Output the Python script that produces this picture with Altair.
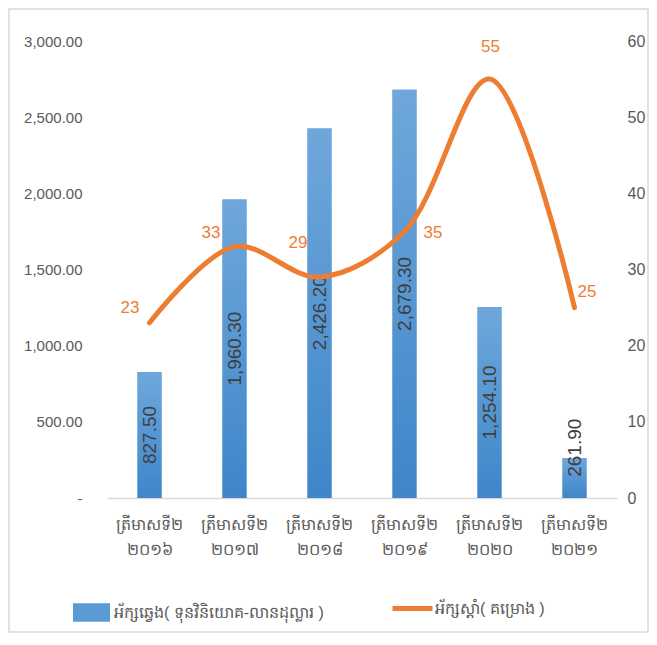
import altair as alt
import pandas as pd

quarter = "ត្រីមាសទី២"
years = ["២០១៦", "២០១៧", "២០១៨", "២០១៩", "២០២០", "២០២១"]
categories = [quarter + " " + y for y in years]
investment = [827.5, 1960.3, 2426.2, 2679.3, 1254.1, 261.9]
projects = [23, 33, 29, 35, 55, 25]
bar_series = "អ័ក្សឆ្វេង( ទុនវិនិយោគ-លានដុល្លារ )"
line_series = "អ័ក្សស្តាំ( គម្រោង )"
left_ticks = [0, 500, 1000, 1500, 2000, 2500, 3000]
right_ticks = [0, 10, 20, 30, 40, 50, 60]

df = pd.DataFrame({"cat": categories, "inv": investment, "proj": projects})

BLUE = "#5b9bd5"
ORANGE = "#ed7d31"
GRAY = "#595959"
FONT = "Liberation Sans"

base = alt.Chart(df)

x_enc = alt.X(
    "cat:N", sort=categories, title=None,
    scale=alt.Scale(paddingInner=0, paddingOuter=0),
    axis=alt.Axis(
        labelExpr="split(datum.label, ' ')", labelAngle=0, labelFontSize=16,
        labelColor=GRAY, labelLineHeight=25, labelPadding=18, ticks=False,
        domainColor="#d9d9d9", domainWidth=1.5, labelFont=FONT,
    ),
)
x_plain = alt.X("cat:N", sort=categories, scale=alt.Scale(paddingInner=0, paddingOuter=0))
y_left_scale = alt.Scale(domain=[0, 3000])
y_right_scale = alt.Scale(domain=[0, 60])

bars_legend = base.transform_calculate(s1=f"'{bar_series}'").mark_bar(size=24).encode(
    x=x_enc,
    y=alt.Y("inv:Q", scale=y_left_scale, title=None,
            axis=alt.Axis(values=left_ticks, grid=False, domain=False, ticks=False,
                          tickSize=0, labelPadding=25, labelFontSize=15, labelColor=GRAY,
                          labelFont=FONT, orient="left",
                          labelExpr="datum.value == 0 ? '-' : format(datum.value, ',.2f')")),
    fill=alt.Fill("s1:N", scale=alt.Scale(domain=[bar_series], range=[BLUE]),
                  legend=alt.Legend(title=None, orient="none", legendX=-34, legendY=553,
                                    symbolType="M-1,-0.5H1V0.5H-1Z", symbolSize=1369,
                                    symbolStrokeWidth=0, labelFontSize=16, labelColor=GRAY,
                                    labelFont=FONT, labelOffset=4, labelLimit=0)),
)

bars_grad = base.mark_bar(
    size=24,
    color=alt.Gradient(
        gradient="linear",
        stops=[alt.GradientStop(color="#6fa7dc", offset=0),
               alt.GradientStop(color="#3e86c9", offset=1)],
        x1=0, x2=0, y1=0, y2=1,
    ),
).encode(x=x_plain, y=alt.Y("inv:Q", scale=y_left_scale, axis=None))

bar_text = base.transform_calculate(
    mid="max(datum.inv / 2, 330)",
    lbl="format(datum.inv, ',.2f')",
).mark_text(angle=270, fontSize=19, color="#404040", font=FONT, align="center",
            baseline="middle").encode(
    x=x_plain,
    y=alt.Y("mid:Q", scale=y_left_scale, axis=None),
    text="lbl:N",
)

line = base.transform_calculate(s2=f"'{line_series}'").mark_line(
    interpolate="catmull-rom", strokeWidth=5, strokeCap="round").encode(
    x=x_plain,
    y=alt.Y("proj:Q", scale=y_right_scale, title=None,
            axis=alt.Axis(values=right_ticks, orient="right", grid=False, domain=False,
                          ticks=False, tickSize=0, labelPadding=10, labelFontSize=16,
                          labelColor=GRAY, labelFont=FONT)),
    stroke=alt.Stroke("s2:N", scale=alt.Scale(domain=[line_series], range=[ORANGE]),
                      legend=alt.Legend(title=None, orient="none", legendX=283, legendY=545,
                                        symbolType="stroke", symbolSize=1600,
                                        symbolStrokeWidth=5, labelFontSize=16,
                                        labelColor=GRAY, labelFont=FONT, labelOffset=0,
                                        labelLimit=0)),
)

# label placement styles per category index: (align, dx, dy)
label_styles = {
    0: ("right", -10, -15),
    1: ("right", -14, -14),
    2: ("right", -12, -34),
    3: ("left", 19, 2),
    4: ("center", 1, -32),
    5: ("left", 3, -16),
}
line_labels = []
for i, (al, dx, dy) in label_styles.items():
    line_labels.append(
        base.transform_filter(alt.datum.cat == categories[i]).mark_text(
            align=al, dx=dx, dy=dy, fontSize=17, color=ORANGE, font=FONT,
            baseline="middle").encode(
            x=x_plain,
            y=alt.Y("proj:Q", scale=y_right_scale, axis=None),
            text="proj:Q",
        )
    )

frame = alt.Chart(pd.DataFrame({"f": [0]})).mark_rect(
    fill="transparent", stroke="#d9d9d9", strokeWidth=1.5).encode(
    x=alt.value(-98), x2=alt.value(541), y=alt.value(-32), y2=alt.value(591))

chart = alt.layer(bars_legend, bars_grad, bar_text, line, *line_labels, frame).resolve_scale(
    y="independent", fill="independent", stroke="independent"
).properties(
    width=510, height=457,
    autosize=alt.AutoSizeParams(type="none"),
    padding={"left": 99, "top": 33, "right": 32, "bottom": 135},
).configure(background="white").configure_view(stroke="transparent", strokeWidth=0)

chart.save("out.html", embed_options={"renderer": "svg", "actions": False})
